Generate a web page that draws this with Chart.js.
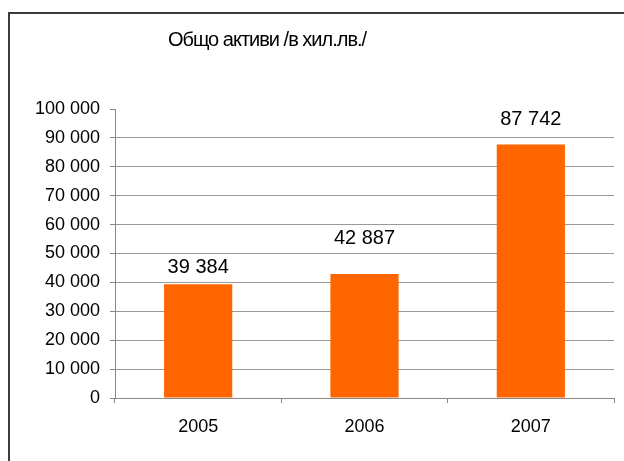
<!DOCTYPE html>
<html>
<head>
<meta charset="utf-8">
<script src="https://cdn.jsdelivr.net/npm/chart.js@4.4.0/dist/chart.umd.min.js"></script>
<style>
  html, body { margin: 0; padding: 0; background: #fff; }
  #wrap { position: relative; width: 624px; height: 461px; }
</style>
</head>
<body>
<div id="wrap"><canvas id="chart" width="624" height="461"></canvas></div>
<script>
// --- data ---
const years = ['2005', '2006', '2007'];
const totalAssets = [39384, 42887, 87742];
const yTicks = [0, 10000, 20000, 30000, 40000, 50000, 60000, 70000, 80000, 90000, 100000];
const chartTitle = 'Общо активи /в хил.лв./';

// label lift above each bar (px), Excel had them placed by hand
const labelLift = [17, 36, 25];

const FONT = '"Liberation Sans", Arial, sans-serif';
const fmt = v => String(v).replace(/\B(?=(\d{3})+(?!\d))/g, ' ');

// frame + title drawn straight onto the canvas
const framePlugin = {
  id: 'frame',
  beforeDraw(chart) {
    const ctx = chart.ctx;
    ctx.save();
    ctx.strokeStyle = '#3c3c3c';
    ctx.lineWidth = 2;
    ctx.beginPath();
    ctx.moveTo(9, 461);
    ctx.lineTo(9, 13);
    ctx.lineTo(624, 13);
    ctx.stroke();
    ctx.fillStyle = '#000';
    ctx.font = '20px ' + FONT;
    if ('letterSpacing' in ctx) ctx.letterSpacing = '-1px';
    ctx.textAlign = 'center';
    ctx.textBaseline = 'middle';
    ctx.fillText(chartTitle, 267, 40);
    ctx.restore();
  }
};

const valueLabels = {
  id: 'valueLabels',
  afterDatasetsDraw(chart) {
    const ctx = chart.ctx;
    const meta = chart.getDatasetMeta(0);
    ctx.save();
    ctx.fillStyle = '#000';
    ctx.font = '20px ' + FONT;
    ctx.textAlign = 'center';
    ctx.textBaseline = 'middle';
    meta.data.forEach((bar, i) => {
      ctx.fillText(fmt(totalAssets[i]), bar.x, bar.y - labelLift[i]);
    });
    ctx.restore();
  }
};

new Chart(document.getElementById('chart'), {
  type: 'bar',
  data: {
    labels: years,
    datasets: [{
      data: totalAssets,
      backgroundColor: '#ff6600',
      borderWidth: 0,
      barPercentage: 0.41,
      categoryPercentage: 1
    }]
  },
  options: {
    responsive: false,
    animation: false,
    layout: { padding: { top: 109, right: 10, bottom: 0, left: 0 } },
    plugins: { legend: { display: false }, tooltip: { enabled: false }, title: { display: false } },
    scales: {
      x: {
        offset: true,
        afterFit: s => { s.height = 63; },
        grid: { offset: true, drawOnChartArea: false, tickLength: 5, tickColor: '#888' },
        border: { color: '#888' },
        ticks: { color: '#000', font: { family: FONT, size: 18 }, padding: 13 }
      },
      y: {
        min: 0, max: 100000,
        afterFit: s => { s.width = 115; },
        afterBuildTicks: s => { s.ticks = yTicks.map(v => ({ value: v })); },
        grid: {
          color: c => c.tick && c.tick.value === 100000 ? 'rgba(0,0,0,0)' : '#999',
          tickColor: '#888',
          tickLength: 5
        },
        border: { color: '#888' },
        ticks: { color: '#000', font: { family: FONT, size: 18 }, padding: 10, callback: v => fmt(v) }
      }
    }
  },
  plugins: [framePlugin, valueLabels]
});
</script>
</body>
</html>
